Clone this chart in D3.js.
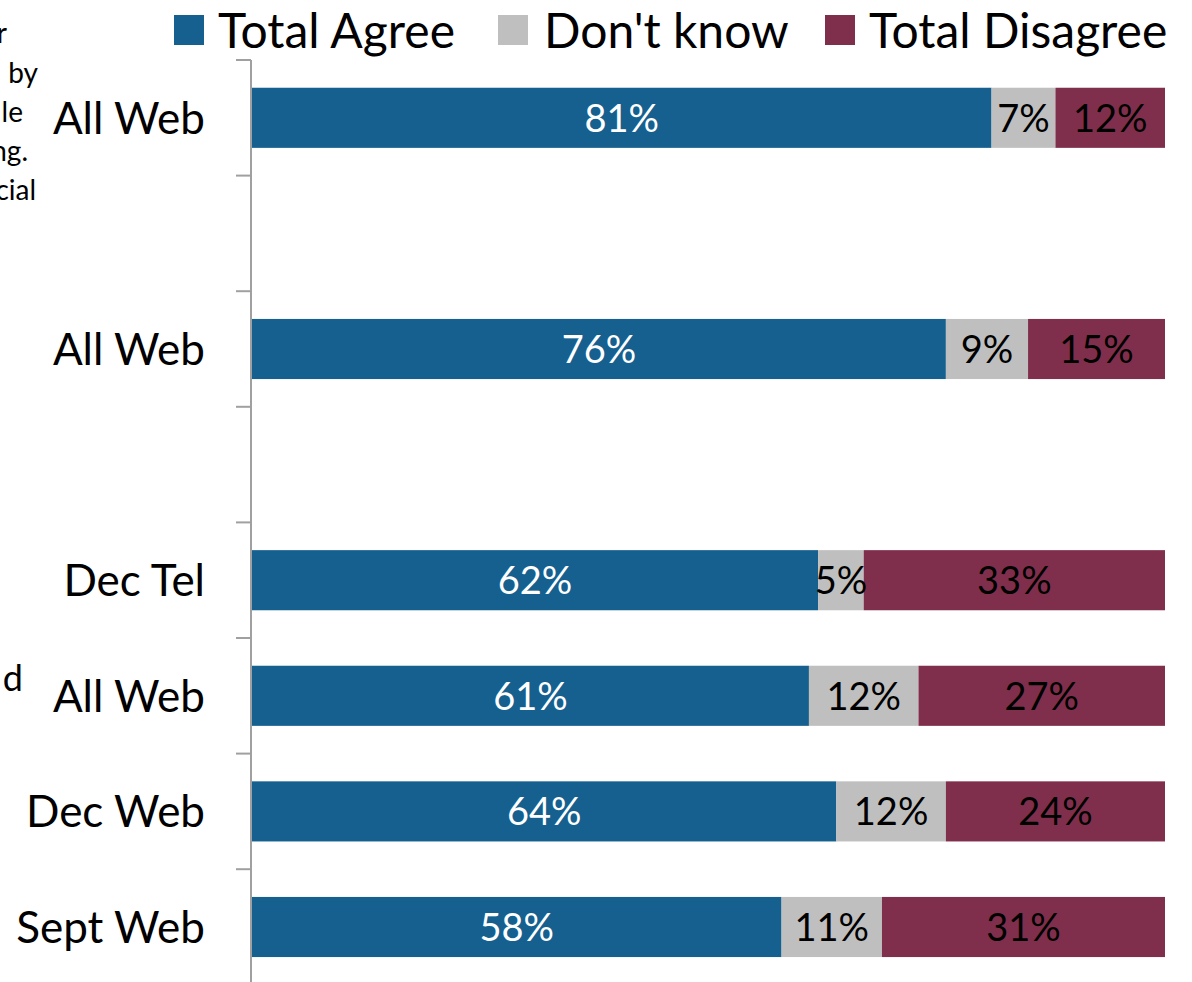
<!DOCTYPE html>
<html>
<head>
<meta charset="utf-8">
<script src="https://cdn.jsdelivr.net/npm/d3@7/dist/d3.min.js"></script>
<style>
  html, body { margin: 0; padding: 0; background: #ffffff; overflow: hidden; }
  svg { display: block; font-family: Lato, "Open Sans", sans-serif; }
</style>
</head>
<body>
<svg id="chart" width="1192" height="982"></svg>
<script>
// ---- data ----
const categories = ["All Web", "", "All Web", "", "Dec Tel", "All Web", "Dec Web", "Sept Web"];
const totalAgree    = [81, null, 76, null, 62, 61, 64, 58];
const dontKnow      = [7,  null, 9,  null, 5,  12, 12, 11];
const totalDisagree = [12, null, 15, null, 33, 27, 24, 31];
const seriesNames = ["Total Agree", "Don't know", "Total Disagree"];
const seriesColors = ["#15608F", "#BFBFBF", "#7F2F4B"];
const labelColors = ["#ffffff", "#000000", "#000000"];
// clipped fragments of a side note at the left edge
const sideFragments = ["r", "by", "le", "ng.", "cial", "d"];

// ---- layout ----
const svg = d3.select("#chart");
const plotLeft = 252, plotRight = 1165;
const plotTop = 60, step = 115.6;

const idx = categories.map((_, i) => i);
const y = d3.scaleBand().domain(idx).range([plotTop, plotTop + step * categories.length]).paddingInner(0).paddingOuter(0);
const yBar = d3.scaleBand().domain(idx).range([plotTop, plotTop + step * categories.length]).paddingInner(0.48).paddingOuter(0.24);
const x = d3.scaleLinear().domain([0, 100]).range([plotLeft, plotRight]);

const series = [totalAgree, dontKnow, totalDisagree];
const rows = idx.filter(i => totalAgree[i] != null).map(i => {
  let acc = 0;
  return series.map((s, k) => {
    const seg = { i, k, v: s[i], x0: acc, x1: acc + s[i] };
    acc += s[i];
    return seg;
  });
}).flat();

// bars
svg.append("g").selectAll("rect").data(rows).join("rect")
  .attr("x", d => x(d.x0))
  .attr("width", d => x(d.x1) - x(d.x0))
  .attr("y", d => yBar(d.i))
  .attr("height", yBar.bandwidth())
  .attr("fill", d => seriesColors[d.k]);

// value labels
svg.append("g").selectAll("text").data(rows).join("text")
  .attr("x", d => (x(d.x0) + x(d.x1)) / 2)
  .attr("y", d => yBar(d.i) + yBar.bandwidth() / 2 + 14)
  .attr("text-anchor", "middle")
  .attr("font-size", 38)
  .attr("fill", d => labelColors[d.k])
  .text(d => d.v + "%");

// axis line and ticks at band boundaries
const axisG = svg.append("g");
axisG.append("line")
  .attr("x1", plotLeft - 1).attr("x2", plotLeft - 1)
  .attr("y1", y(0)).attr("y2", y(idx[idx.length - 1]) + y.bandwidth())
  .attr("stroke", "#A0A0A0").attr("stroke-width", 2);
const boundaries = idx.map(i => y(i)).concat([y(idx[idx.length - 1]) + y.bandwidth()]);
axisG.selectAll("line.tick").data(boundaries).join("line")
  .attr("class", "tick")
  .attr("x1", plotLeft - 16).attr("x2", plotLeft - 1)
  .attr("y1", d => d).attr("y2", d => d)
  .attr("stroke", "#A0A0A0").attr("stroke-width", 2);

// category labels
svg.append("g").selectAll("text").data(idx).join("text")
  .attr("x", 205)
  .attr("y", i => y(i) + y.bandwidth() / 2 + 16)
  .attr("text-anchor", "end")
  .attr("font-size", 44)
  .attr("fill", "#000")
  .text(i => categories[i]);

// legend
const legendX = [174, 498, 825];
const lg = svg.append("g").selectAll("g").data(seriesNames).join("g")
  .attr("transform", (d, k) => `translate(${legendX[k]},0)`);
lg.append("rect").attr("x", 0).attr("y", 15).attr("width", 30).attr("height", 30)
  .attr("fill", (d, k) => seriesColors[k]);
lg.append("text").attr("x", (d, k) => [44, 46, 44][k]).attr("y", 48)
  .attr("font-size", 48).attr("fill", "#000").text(d => d);

// side note fragments (clipped text at left edge)
const fragRight = [7, 38, 23, 28, 36, 23];
const fragBase = [43, 83, 122, 161, 200, 691];
const fragSize = [28, 28, 28, 28, 28, 36];
svg.append("g").selectAll("text").data(sideFragments).join("text")
  .attr("x", (d, k) => fragRight[k])
  .attr("y", (d, k) => fragBase[k])
  .attr("text-anchor", "end")
  .attr("font-size", (d, k) => fragSize[k])
  .attr("fill", "#000")
  .text(d => d);
</script>
</body>
</html>
